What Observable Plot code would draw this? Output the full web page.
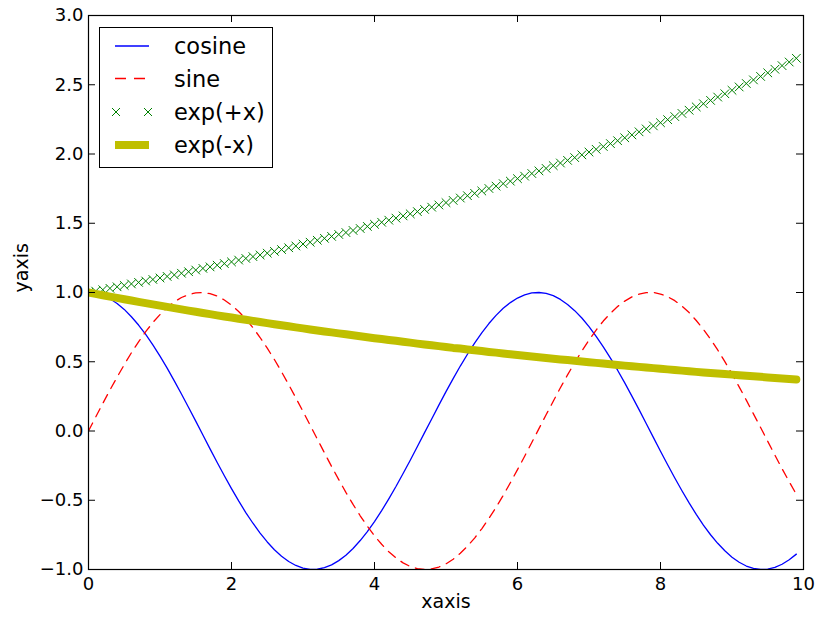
<!DOCTYPE html>
<html>
<head>
<meta charset="utf-8">
<script src="https://cdn.jsdelivr.net/npm/d3@7"></script>
<script src="https://cdn.jsdelivr.net/npm/@observablehq/plot@0.6"></script>
<style>
  html, body { margin: 0; padding: 0; background: white; }
  #wrap { position: relative; width: 816px; height: 617px; }
  #legend { position: absolute; left: 99px; top: 27px; }
</style>
</head>
<body>
<div id="wrap"></div>
<script>
const xs = [0.0,0.1,0.2,0.3,0.4,0.5,0.6,0.7,0.8,0.9,
  1.0,1.1,1.2,1.3,1.4,1.5,1.6,1.7,1.8,1.9,
  2.0,2.1,2.2,2.3,2.4,2.5,2.6,2.7,2.8,2.9,
  3.0,3.1,3.2,3.3,3.4,3.5,3.6,3.7,3.8,3.9,
  4.0,4.1,4.2,4.3,4.4,4.5,4.6,4.7,4.8,4.9,
  5.0,5.1,5.2,5.3,5.4,5.5,5.6,5.7,5.8,5.9,
  6.0,6.1,6.2,6.3,6.4,6.5,6.6,6.7,6.8,6.9,
  7.0,7.1,7.2,7.3,7.4,7.5,7.6,7.7,7.8,7.9,
  8.0,8.1,8.2,8.3,8.4,8.5,8.6,8.7,8.8,8.9,
  9.0,9.1,9.2,9.3,9.4,9.5,9.6,9.7,9.8,9.9];

const cosine = [1.000,0.995,0.980,0.955,0.921,0.878,0.825,0.765,0.697,0.622,
  0.540,0.454,0.362,0.267,0.170,0.071,-0.029,-0.129,-0.227,-0.323,
  -0.416,-0.505,-0.589,-0.666,-0.737,-0.801,-0.857,-0.904,-0.942,-0.971,
  -0.990,-0.999,-0.998,-0.987,-0.967,-0.936,-0.897,-0.848,-0.791,-0.726,
  -0.654,-0.575,-0.490,-0.401,-0.307,-0.211,-0.112,-0.012,0.087,0.187,
  0.284,0.378,0.469,0.554,0.635,0.709,0.776,0.835,0.886,0.927,
  0.960,0.983,0.997,1.000,0.993,0.977,0.950,0.914,0.869,0.816,
  0.754,0.684,0.608,0.526,0.439,0.347,0.252,0.154,0.054,-0.046,
  -0.146,-0.244,-0.339,-0.431,-0.519,-0.602,-0.680,-0.749,-0.811,-0.865,
  -0.911,-0.948,-0.975,-0.992,-1.000,-0.997,-0.985,-0.962,-0.930,-0.889];

const sine = [0.000,0.100,0.199,0.296,0.389,0.479,0.565,0.644,0.717,0.783,
  0.841,0.891,0.932,0.964,0.985,0.997,1.000,0.992,0.974,0.946,
  0.909,0.863,0.808,0.746,0.675,0.598,0.516,0.427,0.335,0.239,
  0.141,0.042,-0.058,-0.158,-0.256,-0.351,-0.443,-0.530,-0.612,-0.688,
  -0.757,-0.818,-0.872,-0.916,-0.952,-0.978,-0.994,-1.000,-0.996,-0.982,
  -0.959,-0.926,-0.883,-0.832,-0.773,-0.706,-0.631,-0.551,-0.465,-0.374,
  -0.279,-0.182,-0.083,0.017,0.117,0.215,0.312,0.405,0.494,0.578,
  0.657,0.729,0.794,0.850,0.899,0.938,0.968,0.988,0.999,1.000,
  0.989,0.970,0.941,0.902,0.855,0.798,0.734,0.663,0.585,0.501,
  0.412,0.319,0.223,0.124,0.025,-0.075,-0.174,-0.272,-0.366,-0.457];

const expPlus = [1.000,1.010,1.020,1.030,1.041,1.051,1.062,1.073,1.083,1.094,
  1.105,1.116,1.127,1.139,1.150,1.162,1.174,1.185,1.197,1.209,
  1.221,1.234,1.246,1.259,1.271,1.284,1.297,1.310,1.323,1.336,
  1.350,1.363,1.377,1.391,1.405,1.419,1.433,1.448,1.462,1.477,
  1.492,1.507,1.522,1.537,1.553,1.568,1.584,1.600,1.616,1.632,
  1.649,1.665,1.682,1.699,1.716,1.733,1.751,1.768,1.786,1.804,
  1.822,1.840,1.859,1.878,1.896,1.916,1.935,1.954,1.974,1.994,
  2.014,2.034,2.054,2.075,2.096,2.117,2.138,2.160,2.181,2.203,
  2.226,2.248,2.270,2.293,2.316,2.340,2.363,2.387,2.411,2.435,
  2.460,2.484,2.509,2.535,2.560,2.586,2.612,2.638,2.664,2.691];

const expMinus = [1.000,0.990,0.980,0.970,0.961,0.951,0.942,0.932,0.923,0.914,
  0.905,0.896,0.887,0.878,0.869,0.861,0.852,0.844,0.835,0.827,
  0.819,0.811,0.803,0.795,0.787,0.779,0.771,0.763,0.756,0.748,
  0.741,0.733,0.726,0.719,0.712,0.705,0.698,0.691,0.684,0.677,
  0.670,0.664,0.657,0.651,0.644,0.638,0.631,0.625,0.619,0.613,
  0.607,0.600,0.595,0.589,0.583,0.577,0.571,0.566,0.560,0.554,
  0.549,0.543,0.538,0.533,0.527,0.522,0.517,0.512,0.507,0.502,
  0.497,0.492,0.487,0.482,0.477,0.472,0.468,0.463,0.458,0.454,
  0.449,0.445,0.440,0.436,0.432,0.427,0.423,0.419,0.415,0.411,
  0.407,0.403,0.399,0.395,0.391,0.387,0.383,0.379,0.375,0.372];

const xTicks = [0, 2, 4, 6, 8, 10];
const yTicks = [-1.0, -0.5, 0.0, 0.5, 1.0, 1.5, 2.0, 2.5, 3.0];
const seriesNames = ["cosine", "sine", "exp(+x)", "exp(-x)"];

const rows = xs.map((x, i) => ({x, cosine: cosine[i], sine: sine[i], expPlus: expPlus[i], expMinus: expMinus[i]}));

const W = 816, H = 617, mL = 88, mR = 13, mT = 15, mB = 48;
const fw = W - mL - mR, fh = H - mT - mB, tick = 7;

const chart = Plot.plot({
  width: W, height: H,
  marginLeft: mL, marginRight: mR, marginTop: mT, marginBottom: mB,
  style: {fontFamily: "'DejaVu Sans', sans-serif", fontSize: "18px", color: "black", background: "white", overflow: "visible"},
  x: {domain: [0, 10], label: null},
  y: {domain: [-1, 3], label: null},
  marks: [
    Plot.lineY(rows, {x: "x", y: "cosine", stroke: "#0000ff", strokeWidth: 1.3, clip: true}),
    Plot.lineY(rows, {x: "x", y: "sine", stroke: "#ff0000", strokeWidth: 1.3, strokeDasharray: "9,7", clip: true}),
    Plot.dot(rows, {x: "x", y: "expPlus", symbol: "times", r: 4, stroke: "#008000", strokeWidth: 1, clip: true}),
    Plot.lineY(rows, {x: "x", y: "expMinus", stroke: "#bfbf00", strokeWidth: 8, clip: true}),
    Plot.frame({stroke: "black", strokeWidth: 1.2}),
    Plot.ruleX(xTicks, {x: d => d, insetTop: fh - tick, stroke: "black"}),
    Plot.ruleX(xTicks, {x: d => d, insetBottom: fh - tick, stroke: "black"}),
    Plot.ruleY(yTicks, {y: d => d, insetRight: fw - tick, stroke: "black"}),
    Plot.ruleY(yTicks, {y: d => d, insetLeft: fw - tick, stroke: "black"}),
    Plot.axisX(xTicks, {tickSize: 0, tickPadding: 8, tickFormat: d => String(d), label: null, fontSize: 18}),
    Plot.axisY(yTicks, {tickSize: 0, tickPadding: 5, tickFormat: d3.format(".1f"), label: null, fontSize: 18}),
    Plot.text(["xaxis"], {frameAnchor: "bottom", dy: 38, fontSize: 19, fill: "black"}),
    Plot.text(["yaxis"], {frameAnchor: "left", dx: -67, rotate: -90, fontSize: 19, fill: "black"})
  ]
});

const wrap = document.getElementById("wrap");
wrap.appendChild(chart);

// Legend (matplotlib-style box in upper left)
const lg = document.createElementNS("http://www.w3.org/2000/svg", "svg");
lg.setAttribute("id", "legend");
lg.setAttribute("width", 175);
lg.setAttribute("height", 142);
const rowY = [19, 51.5, 85, 118];
const font = "font-family:'DejaVu Sans',sans-serif;font-size:22.5px;fill:black";
let s = `<rect x="0.5" y="0.5" width="173" height="140" fill="white" stroke="black" stroke-width="1"/>`;
s += `<line x1="16" x2="50" y1="${rowY[0]}" y2="${rowY[0]}" stroke="#0000ff" stroke-width="1.3"/>`;
s += `<line x1="16" x2="47" y1="${rowY[1]}" y2="${rowY[1]}" stroke="#ff0000" stroke-width="1.3" stroke-dasharray="11,8"/>`;
[17, 49].forEach(cx => {
  s += `<path d="M${cx-4},${rowY[2]-4}L${cx+4},${rowY[2]+4}M${cx-4},${rowY[2]+4}L${cx+4},${rowY[2]-4}" stroke="#008000" stroke-width="1" fill="none"/>`;
});
s += `<line x1="16" x2="50" y1="${rowY[3]}" y2="${rowY[3]}" stroke="#bfbf00" stroke-width="8"/>`;
seriesNames.forEach((n, i) => {
  s += `<text x="75" y="${rowY[i]}" dy="0.36em" style="${font}">${n}</text>`;
});
lg.innerHTML = s;
wrap.appendChild(lg);
</script>
</body>
</html>
